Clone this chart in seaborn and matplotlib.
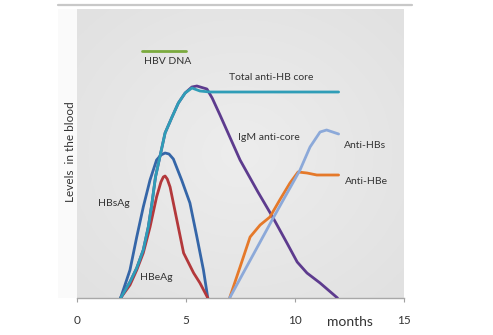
import numpy as np
import pandas as pd
import seaborn as sns
import matplotlib
matplotlib.use("Agg")
import matplotlib.pyplot as plt
from matplotlib.lines import Line2D
from matplotlib.patches import Rectangle
from matplotlib.colors import LinearSegmentedColormap

# Time after exposure (months) and relative marker levels in the blood
hbv_dna_x = [3.0, 5.0]
hbv_dna_y = [247, 247]

total_core_x = [2.0, 2.43, 2.74, 3.04, 3.27, 3.44, 3.6, 3.8, 4.04, 4.36, 4.65, 4.96, 5.27, 5.64, 6.1, 12.0]
total_core_y = [0, 16, 30, 48, 71, 95, 121, 141, 165, 181, 195, 205, 210, 207, 206, 206]

igm_core_x = [2.0, 2.43, 2.74, 3.04, 3.27, 3.44, 3.6, 3.8, 4.04, 4.36, 4.65, 4.96, 5.27, 5.5, 5.96, 6.2,
              6.56, 7.48, 8.3, 9.0, 9.63, 10.1, 10.55, 11.15, 11.95]
igm_core_y = [0, 16, 30, 48, 71, 95, 121, 141, 165, 181, 195, 205, 211, 212, 209, 200,
              183, 138, 106, 80, 55, 36, 25, 15, 0]

hbsag_x = [2.0, 2.43, 2.74, 3.04, 3.35, 3.65, 3.85, 4.04, 4.22, 4.42, 4.8, 5.18, 5.5, 5.8, 6.0]
hbsag_y = [0, 28, 61, 91, 118, 138, 143, 145, 144, 139, 118, 95, 61, 28, 0]

hbeag_x = [2.0, 2.43, 2.74, 3.04, 3.35, 3.65, 3.85, 3.96, 4.04, 4.14, 4.27, 4.58, 4.89, 5.35, 5.64, 6.0]
hbeag_y = [0, 13, 28, 45, 71, 101, 116, 121, 122, 119, 111, 78, 45, 25, 15, 0]

anti_hbs_x = [7.0, 9.0, 10.23, 10.69, 11.15, 11.45, 12.0]
anti_hbs_y = [0, 80, 128, 151, 166, 168, 164]

anti_hbe_x = [7.0, 7.48, 7.94, 8.4, 8.85, 9.3, 9.77, 10.14, 10.55, 11.0, 12.0]
anti_hbe_y = [0, 31, 61, 73, 81, 98, 115, 126, 125, 123, 123]

month_ticks = [0, 5, 10, 15]

sns.set_theme(style="white")
plt.rcParams["font.family"] = ["Lato", "DejaVu Sans"]

W, H = 493, 335
fig = plt.figure(figsize=(W / 100, H / 100), dpi=100)
fig.patch.set_facecolor("white")

# faint panel strip left of the plot and the thin rule across the top
fig.patches.append(Rectangle((58 / W, 37 / H), 19 / W, (335 - 37 - 9) / H,
                             transform=fig.transFigure, facecolor="#FAFAFA",
                             edgecolor="none", zorder=0))
fig.lines.append(Line2D([58 / W, 412 / W], [1 - 5 / H, 1 - 5 / H],
                        transform=fig.transFigure, color="#C8C8C8", lw=1.6))

ax = fig.add_axes([77 / W, (335 - 298) / H, (404 - 77) / W, (298 - 9) / H])
ax.set_xlim(0, 15)
ax.set_ylim(0, 289)

# soft radial shading of the plotting area
gy, gx = np.mgrid[-1:1:200j, -1:1:200j]
shade = np.sqrt(gx ** 2 + gy ** 2)
panel_cmap = LinearSegmentedColormap.from_list("panel", ["#EDEDED", "#E1E1E1"])
ax.imshow(shade, extent=[0, 15, 0, 289], aspect="auto", cmap=panel_cmap,
          vmin=0.0, vmax=1.4, zorder=0, interpolation="bilinear")

series = [
    (hbsag_x, hbsag_y, "#3566A8"),
    (hbeag_x, hbeag_y, "#B3383B"),
    (igm_core_x, igm_core_y, "#5D3B8E"),
    (total_core_x, total_core_y, "#2F9DB7"),
    (anti_hbe_x, anti_hbe_y, "#E5792A"),
    (anti_hbs_x, anti_hbs_y, "#8CA9D9"),
    (hbv_dna_x, hbv_dna_y, "#7BAA3E"),
]
for xs, ys, col in series:
    sns.lineplot(x=xs, y=ys, color=col, linewidth=2.0, sort=False,
                 estimator=None, ax=ax, zorder=3)

txt = dict(color="#333333", fontsize=7.5, ha="center", va="center")
ax.text(4.17, 236, "HBV DNA", **txt)
ax.text(8.9, 220, "Total anti-HB core", **txt)
ax.text(8.8, 161, "IgM anti-core", **txt)
ax.text(13.2, 153, "Anti-HBs", **txt)
ax.text(13.26, 116, "Anti-HBe", **txt)
ax.text(1.7, 95, "HBsAg", **txt)
ax.text(3.65, 20, "HBeAg", **txt)
ax.text(12.5, -24, "months", color="#333333", fontsize=10, ha="center",
        va="center", clip_on=False)

ax.set_xticks(month_ticks)
ax.set_xticklabels([str(t) for t in month_ticks])
ax.set_yticks([])
ax.tick_params(axis="x", direction="out", length=3, width=0.8, color="#A0A0A0",
               pad=9, labelsize=8.5, labelcolor="#333333", bottom=True)
for side in ["left", "right", "top"]:
    ax.spines[side].set_visible(False)
ax.spines["bottom"].set_color("#A8A8A8")
ax.spines["bottom"].set_linewidth(1.0)

fig.text(71 / W, 1 - 152 / H, "Levels  in the blood", rotation=90,
         ha="center", va="center", fontsize=8.5, color="#333333")

fig.savefig("out.png", dpi=100)
